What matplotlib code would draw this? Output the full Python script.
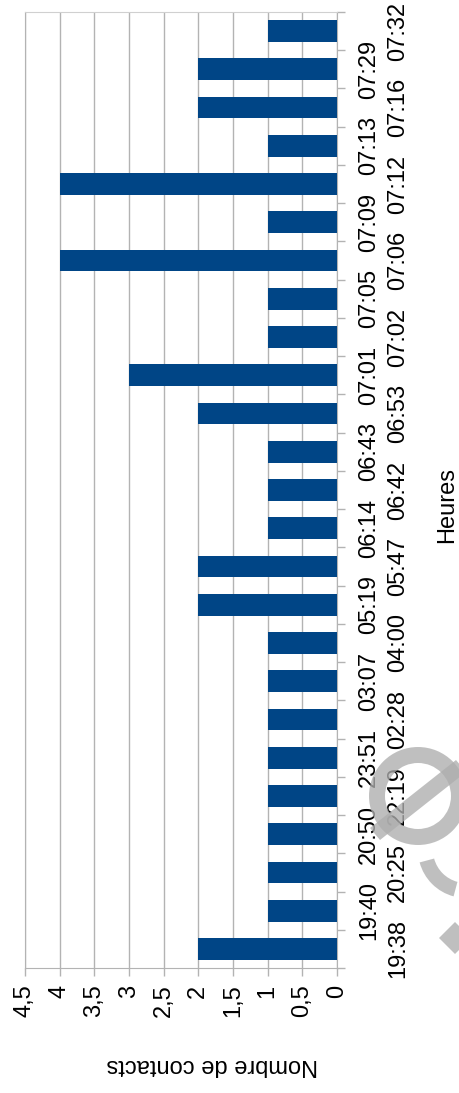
import matplotlib
matplotlib.use("Agg")
import matplotlib.pyplot as plt
import numpy as np
from matplotlib.patches import Wedge, Polygon
from matplotlib.transforms import IdentityTransform

plt.rcParams['font.family'] = ['Liberation Sans', 'DejaVu Sans']

heures = ["19:38", "19:40", "20:25", "20:50", "22:19", "23:51", "02:28", "03:07",
          "04:00", "05:19", "05:47", "06:14", "06:42", "06:43", "06:53", "07:01",
          "07:02", "07:05", "07:06", "07:09", "07:12", "07:13", "07:16", "07:29",
          "07:32"]
contacts = [2, 1, 1, 1, 1, 1, 1, 1, 1, 2, 2, 1, 1, 1, 2, 3, 1, 1, 4, 1, 4, 1, 2, 2, 1]
graduations = [0, 0.5, 1, 1.5, 2, 2.5, 3, 3.5, 4, 4.5]

W, H = 459, 1093
fig = plt.figure(figsize=(W / 100, H / 100), dpi=100)
ax = fig.add_axes([25 / W, 1 - 968 / H, (337 - 25) / W, (968 - 12) / H])

grey = "#b3b3b3"
pos = np.arange(len(heures))
ax.barh(pos, contacts, height=0.57, color="#004586", zorder=3)

# value axis runs right to left (chart is turned a quarter turn)
ax.set_xlim(4.5, 0)
ax.set_ylim(-0.5, len(heures) - 0.5)
ax.set_xticks(graduations)
ax.set_xticklabels([f"{g:g}".replace(".", ",") for g in graduations],
                   rotation=90, va="top", ha="center", fontsize=17)
ax.grid(axis="x", color=grey, linewidth=1, zorder=0)

ax.yaxis.tick_right()
ax.set_yticks(pos)
ax.set_yticklabels(heures, rotation=90, va="center", ha="left", fontsize=17)
ax.set_yticks(np.arange(-0.5, len(heures)), minor=True)
ax.tick_params(axis="y", which="major", length=0, pad=15)
ax.tick_params(axis="y", which="minor", length=6, width=1, color=grey, direction="out")
ax.tick_params(axis="x", which="major", length=6, width=1, color=grey, pad=6)
# staggered category labels
for i, t in enumerate(ax.yaxis.get_major_ticks()):
    if i % 2 == 0:
        t.set_pad(36)

for side in ["left", "right", "bottom"]:
    ax.spines[side].set_color(grey)
ax.spines["top"].set_color("#d0d0d0")

fig.text(447 / W, 1 - 505 / H, "Heures", rotation=90, ha="center", va="center",
         fontsize=17)
fig.text(212 / W, 1 - 1065 / H, "Nombre de contacts", rotation=180, ha="center",
         va="center", fontsize=17)

# grey logo stamped over the lower right corner
px = IdentityTransform()
wm = dict(facecolor="#aeaeae", edgecolor="none", alpha=0.78, zorder=10, transform=px)
cx, cy = 418, H - 796
fig.patches.append(Wedge((cx, cy), 49, 0, 360, width=16, **wm))
fig.patches.append(Polygon([(370, H - 828), (380, H - 840), (466, H - 772), (456, H - 760)],
                           closed=True, **wm))
fig.patches.append(Wedge((466, H - 850), 48, 195, 255, width=15, **wm))
fig.patches.append(Polygon([(455, H - 922), (471, H - 938), (455, H - 954), (439, H - 938)],
                           closed=True, **wm))

fig.savefig("out.png", dpi=100)
